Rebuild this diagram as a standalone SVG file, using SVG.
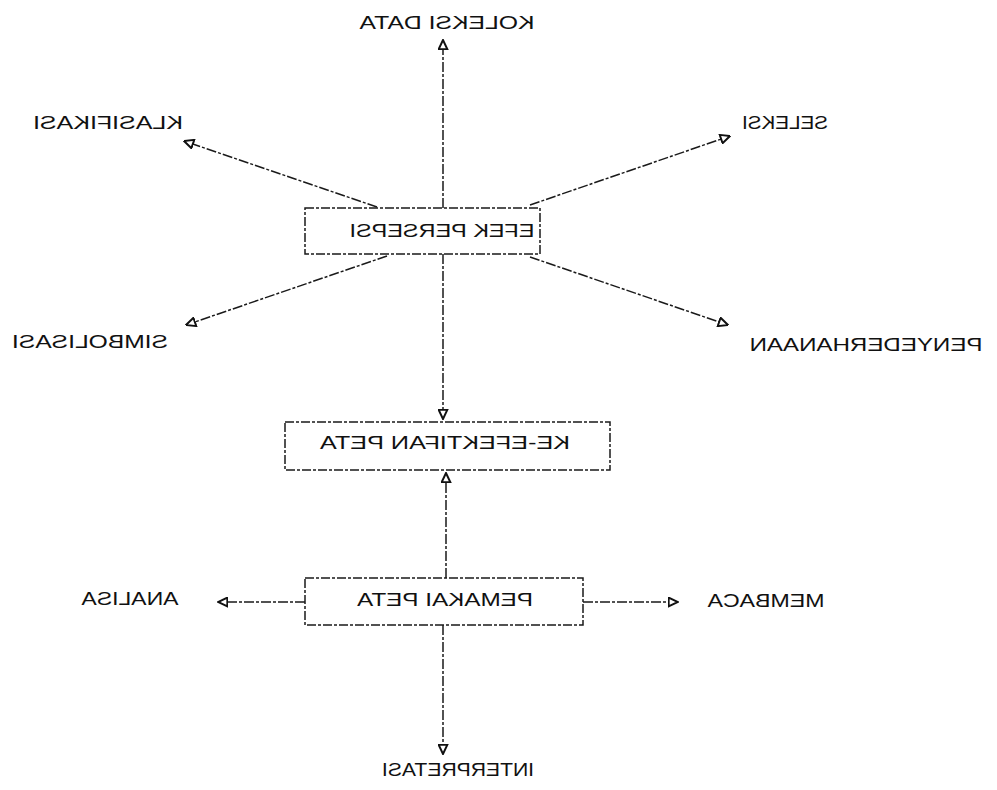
<svg xmlns="http://www.w3.org/2000/svg" width="997" height="790" viewBox="0 0 997 790">
<style>
.t{font-family:"Liberation Sans",Arial,sans-serif;font-size:18.5px;fill:#111;text-anchor:middle}
.box{fill:none;stroke:#1a1a1a;stroke-width:1.5;stroke-dasharray:9 2 3 2}
.c line{stroke:#1a1a1a;stroke-width:1.5;stroke-dasharray:10 2 3 2;fill:none}
</style>
<defs>
<marker id="arr" viewBox="0 0 10 10" refX="9.5" refY="5" markerWidth="11" markerHeight="11" markerUnits="userSpaceOnUse" orient="auto">
<path d="M1,1 L9.5,5 L1,9 Z" fill="#fff" stroke="#111" stroke-width="1.8" stroke-dasharray="none"/>
</marker>
</defs>
<rect width="997" height="790" fill="#fff"/>
<g class="c" id="connectors">
<line x1="443" y1="208" x2="443" y2="40" marker-end="url(#arr)"/>
<line x1="377" y1="207" x2="184" y2="141" marker-end="url(#arr)"/>
<line x1="530" y1="205" x2="730" y2="136" marker-end="url(#arr)"/>
<line x1="387" y1="256" x2="186" y2="325" marker-end="url(#arr)"/>
<line x1="530" y1="257" x2="728" y2="325" marker-end="url(#arr)"/>
<line x1="443" y1="254" x2="443" y2="419" marker-end="url(#arr)"/>
<line x1="446" y1="578" x2="446" y2="473" marker-end="url(#arr)"/>
<line x1="305" y1="602" x2="218" y2="602" marker-end="url(#arr)"/>
<line x1="583" y1="602" x2="678" y2="602" marker-end="url(#arr)"/>
<line x1="443" y1="625" x2="443" y2="754" marker-end="url(#arr)"/>
</g>
<g id="efek-persepsi">
<rect class="box" x="305" y="208" width="235" height="46"/>
<text class="t" transform="translate(442,237) scale(-1,1)" textLength="185" lengthAdjust="spacingAndGlyphs">EFEK PERSEPSI</text>
</g>
<g id="ke-efektifan-peta">
<rect class="box" x="285" y="422" width="325" height="48"/>
<text class="t" transform="translate(445,449) scale(-1,1)" textLength="250" lengthAdjust="spacingAndGlyphs">KE-EFEKTIFAN PETA</text>
</g>
<g id="pemakai-peta">
<rect class="box" x="305" y="578" width="278" height="47"/>
<text class="t" transform="translate(445,606) scale(-1,1)" textLength="176" lengthAdjust="spacingAndGlyphs">PEMAKAI PETA</text>
</g>
<g id="koleksi-data"><text class="t" transform="translate(447,29) scale(-1,1)" textLength="175" lengthAdjust="spacingAndGlyphs">KOLEKSI DATA</text></g>
<g id="klasifikasi"><text class="t" transform="translate(108,129) scale(-1,1)" textLength="150" lengthAdjust="spacingAndGlyphs">KLASIFIKASI</text></g>
<g id="seleksi"><text class="t" transform="translate(785,129) scale(-1,1)" textLength="86" lengthAdjust="spacingAndGlyphs">SELEKSI</text></g>
<g id="simbolisasi"><text class="t" transform="translate(90,348) scale(-1,1)" textLength="156" lengthAdjust="spacingAndGlyphs">SIMBOLISASI</text></g>
<g id="penyederhanaan"><text class="t" transform="translate(866,351) scale(-1,1)" textLength="233" lengthAdjust="spacingAndGlyphs">PENYEDERHANAAN</text></g>
<g id="analisa"><text class="t" transform="translate(130,605) scale(-1,1)" textLength="97" lengthAdjust="spacingAndGlyphs">ANALISA</text></g>
<g id="membaca"><text class="t" transform="translate(766,607) scale(-1,1)" textLength="117" lengthAdjust="spacingAndGlyphs">MEMBACA</text></g>
<g id="interpretasi"><text class="t" transform="translate(458,776) scale(-1,1)" textLength="152" lengthAdjust="spacingAndGlyphs">INTERPRETASI</text></g>
</svg>
